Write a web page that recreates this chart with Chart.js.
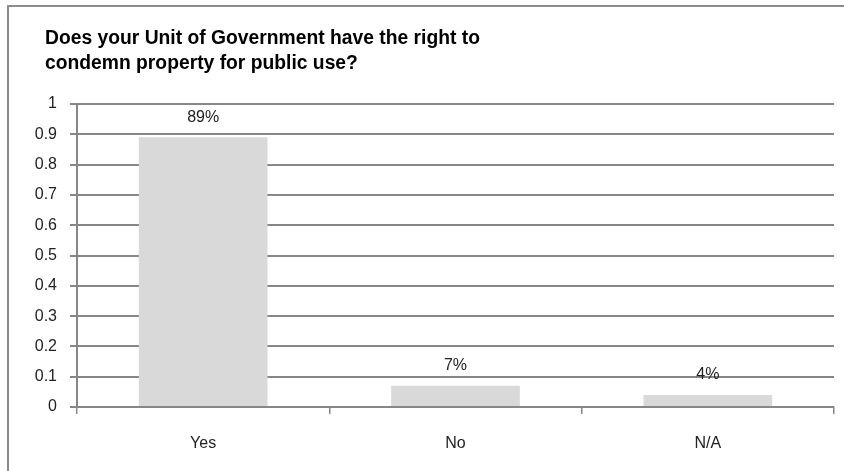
<!DOCTYPE html>
<html>
<head>
<meta charset="utf-8">
<script src="https://cdn.jsdelivr.net/npm/chart.js@4.4.1/dist/chart.umd.min.js"></script>
<style>
  html, body { margin: 0; padding: 0; background: #fff; }
  #wrap { width: 844px; height: 471px; position: relative; }
</style>
</head>
<body>
<div id="wrap"><canvas id="chart" width="844" height="471"></canvas></div>
<script>
const titleLines = ['Does your Unit of Government have the right to', 'condemn property for public use?'];
const answers = ['Yes', 'No', 'N/A'];
const shares = [0.89, 0.07, 0.04];
const yTicks = [0, 0.1, 0.2, 0.3, 0.4, 0.5, 0.6, 0.7, 0.8, 0.9, 1];

const gridGrey = '#878787';
const labelFont = { family: 'Liberation Sans', size: 16 };

// frame + title, drawn straight onto the canvas
const framePlugin = {
    id: 'frame',
    beforeDraw: (chart) => {
        const ctx = chart.ctx;
        ctx.save();
        ctx.strokeStyle = '#8c8c8c';
        ctx.lineWidth = 2;
        ctx.beginPath();
        ctx.moveTo(8, 480);
        ctx.lineTo(8, 6);
        ctx.lineTo(850, 6);
        ctx.stroke();

        ctx.fillStyle = '#000';
        ctx.font = 'bold 20px "Liberation Sans"';
        ctx.textBaseline = 'alphabetic';
        const sx = 435 / ctx.measureText(titleLines[0]).width;
        titleLines.forEach((line, i) => {
            ctx.save();
            ctx.translate(45, 44 + i * 25);
            ctx.scale(sx, 1);
            ctx.fillText(line, 0, 0);
            ctx.restore();
        });
        ctx.restore();
    },
    afterDatasetsDraw: (chart) => {
        const ctx = chart.ctx;
        const meta = chart.getDatasetMeta(0);
        ctx.save();
        ctx.fillStyle = '#222';
        ctx.font = '16px "Liberation Sans"';
        ctx.textAlign = 'center';
        ctx.textBaseline = 'middle';
        meta.data.forEach((bar, i) => {
            ctx.fillText(Math.round(shares[i] * 100) + '%', bar.x, bar.y - 20);
        });
        ctx.restore();
    }
};

new Chart(document.getElementById('chart'), {
    type: 'bar',
    data: {
        labels: answers,
        datasets: [{
            data: shares,
            backgroundColor: '#d9d9d9',
            borderWidth: 0,
            barPercentage: 0.51,
            categoryPercentage: 1
        }]
    },
    options: {
        responsive: false,
        animation: false,
        layout: { padding: { top: 104, right: 10, left: 0, bottom: 0 } },
        plugins: {
            legend: { display: false },
            tooltip: { enabled: false }
        },
        scales: {
            y: {
                min: 0,
                max: 1,
                afterBuildTicks: (scale) => { scale.ticks = yTicks.map(v => ({ value: v })); },
                afterFit: (scale) => { scale.width = 77; },
                border: { color: gridGrey, width: 2 },
                grid: { color: gridGrey, lineWidth: 2, tickLength: 7 },
                ticks: {
                    color: '#222',
                    font: labelFont,
                    padding: 13,
                    callback: (v) => String(Math.round(v * 10) / 10)
                }
            },
            x: {
                afterFit: (scale) => { scale.height = 64; },
                border: { color: gridGrey, width: 1.5 },
                grid: { display: true, drawOnChartArea: false, offset: true, color: gridGrey, lineWidth: 1.5, tickLength: 7 },
                ticks: { color: '#222', font: labelFont, padding: 20 }
            }
        }
    },
    plugins: [framePlugin]
});
</script>
</body>
</html>
